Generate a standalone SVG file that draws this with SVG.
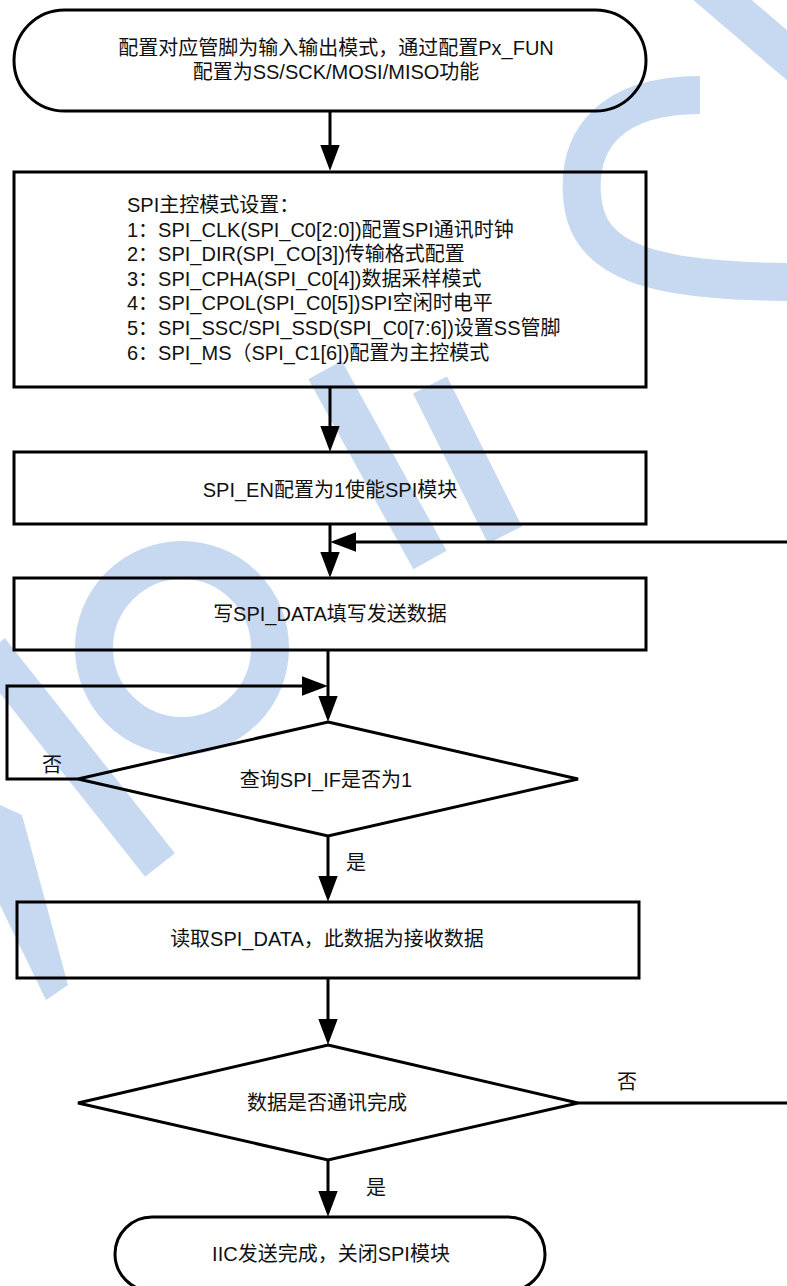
<svg xmlns="http://www.w3.org/2000/svg" width="787" height="1286" viewBox="0 0 787 1286">
<style>
  .wm { fill: none; stroke: #c6d9f0; stroke-width: 38; stroke-linecap: butt; }
  .wmf { fill: #c6d9f0; stroke: none; }
  .node { fill: none; stroke: #000; stroke-width: 3; }
  .edge { fill: none; stroke: #000; stroke-width: 3; }
  text { font-family: "Liberation Sans", "Noto Sans CJK SC", sans-serif; font-size: 20px; fill: #111; }
  .c { text-anchor: middle; }
</style>
<defs>
  <marker id="ah" markerUnits="userSpaceOnUse" markerWidth="26" markerHeight="20" viewBox="0 0 24 18" refX="14" refY="9" orient="auto">
    <path d="M0,0 L24,9 L0,18 Z" fill="#000"/>
  </marker>
</defs>
<rect width="787" height="1286" fill="#fff"/>
<g id="watermark">
  <path class="wm" d="M705,-15 L810,75"/>
  <path class="wm" d="M700,95 C610,95 578,140 582,195 C586,262 650,282 800,282"/>
  <path class="wm" d="M325,370 L430,560"/>
  <path class="wm" d="M430,385 L505,535"/>
  <circle class="wm" cx="182" cy="648" r="88" stroke-width="34"/>
  <path class="wm" d="M-10,650 L160,865"/>
  <polygon class="wmf" points="0,805 22,815 68,985 46,1000 0,905"/>
</g>
<g id="connectors">
  <path class="edge" d="M330,111 L330,160" marker-end="url(#ah)"/>
  <path class="edge" d="M330,387 L330,441" marker-end="url(#ah)"/>
  <path class="edge" d="M330,524 L330,567" marker-end="url(#ah)"/>
  <path class="edge" d="M578,1103 L800,1103 L800,542 L341,542" marker-end="url(#ah)"/>
  <path class="edge" d="M328,650 L328,711" marker-end="url(#ah)"/>
  <path class="edge" d="M78,779 L7,779 L7,686 L317,686" marker-end="url(#ah)"/>
  <path class="edge" d="M328,836 L328,891" marker-end="url(#ah)"/>
  <path class="edge" d="M328,978 L328,1034" marker-end="url(#ah)"/>
  <path class="edge" d="M328,1160 L328,1206" marker-end="url(#ah)"/>
  <text x="52" y="772" class="c">否</text>
  <text x="356" y="870" class="c">是</text>
  <text x="627" y="1089" class="c">否</text>
  <text x="376" y="1195" class="c">是</text>
</g>
<g id="start">
  <rect class="node" x="14" y="10" width="632" height="101" rx="50.5" ry="50.5"/>
  <text x="336" y="55" class="c">配置对应管脚为输入输出模式，通过配置Px_FUN</text>
  <text x="336" y="79" class="c">配置为SS/SCK/MOSI/MISO功能</text>
</g>
<g id="master-setup">
  <rect class="node" x="14" y="172" width="632" height="215"/>
  <text x="127" y="212">SPI主控模式设置：</text>
  <text x="127" y="237">1：SPI_CLK(SPI_C0[2:0])配置SPI通讯时钟</text>
  <text x="127" y="261">2：SPI_DIR(SPI_CO[3])传输格式配置</text>
  <text x="127" y="286">3：SPI_CPHA(SPI_C0[4])数据采样模式</text>
  <text x="127" y="310">4：SPI_CPOL(SPI_C0[5])SPI空闲时电平</text>
  <text x="127" y="335">5：SPI_SSC/SPI_SSD(SPI_C0[7:6])设置SS管脚</text>
  <text x="127" y="360">6：SPI_MS（SPI_C1[6])配置为主控模式</text>
</g>
<g id="enable">
  <rect class="node" x="14" y="452" width="632" height="72"/>
  <text x="330" y="497" class="c">SPI_EN配置为1使能SPI模块</text>
</g>
<g id="write-data">
  <rect class="node" x="14" y="578" width="632" height="72"/>
  <text x="330" y="621" class="c">写SPI_DATA填写发送数据</text>
</g>
<g id="check-if">
  <polygon class="node" points="328,722 578,779 328,836 78,779"/>
  <text x="326" y="787" class="c">查询SPI_IF是否为1</text>
</g>
<g id="read-data">
  <rect class="node" x="17" y="902" width="622" height="76"/>
  <text x="327" y="946" class="c">读取SPI_DATA，此数据为接收数据</text>
</g>
<g id="check-done">
  <polygon class="node" points="328,1045 578,1103 328,1160 78,1103"/>
  <text x="327" y="1110" class="c">数据是否通讯完成</text>
</g>
<g id="end">
  <rect class="node" x="115" y="1217" width="430" height="74" rx="37" ry="37"/>
  <text x="331" y="1261" class="c">IIC发送完成，关闭SPI模块</text>
</g>
</svg>
